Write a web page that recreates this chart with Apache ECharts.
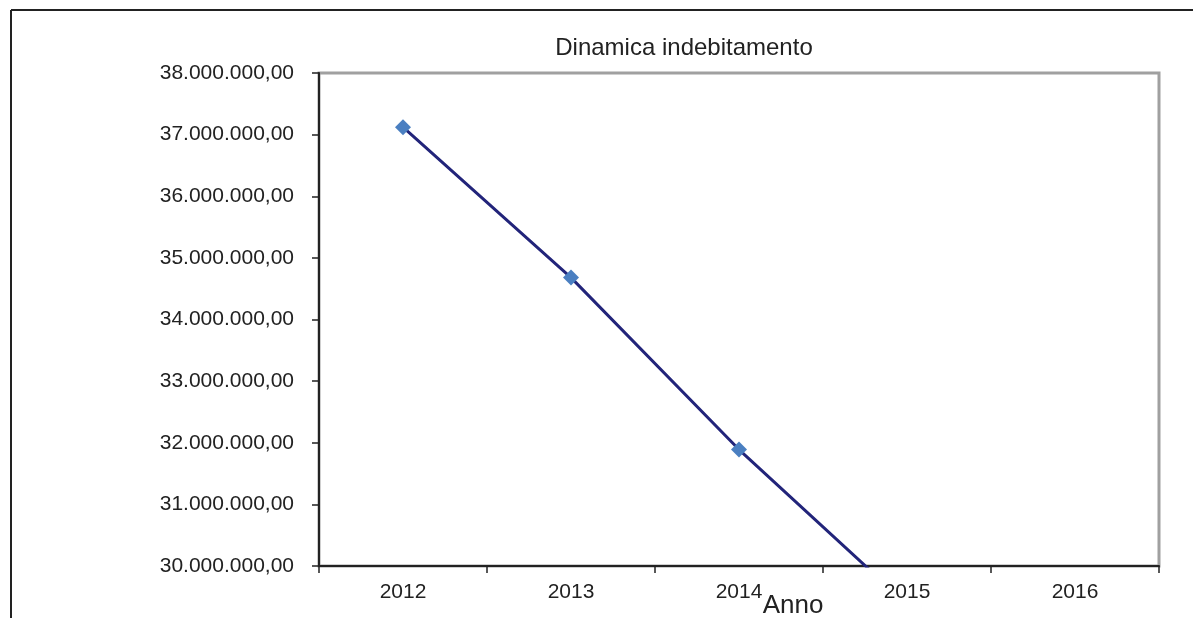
<!DOCTYPE html>
<html>
<head>
<meta charset="utf-8">
<script src="https://cdn.jsdelivr.net/npm/echarts@6/dist/echarts.min.js"></script>
<style>
html,body{margin:0;padding:0;background:#fff;}
#chart{width:1193px;height:618px;}
</style>
</head>
<body>
<div id="chart"></div>
<script>
var categories = ['2012', '2013', '2014', '2015', '2016'];
var debtValues = [37120000, 34680000, 31890000, 29380000, null];
var yMin = 30000000, yMax = 38000000, yStep = 1000000;

function fmt(v) {
  var s = Math.round(v).toString().replace(/\B(?=(\d{3})+(?!\d))/g, '.');
  return s + ',00';
}

var chart = echarts.init(document.getElementById('chart'), null, {renderer: 'canvas'});
chart.setOption({
  animation: false,
  backgroundColor: '#fff',
  textStyle: {fontFamily: 'Liberation Sans, Arial, sans-serif'},
  title: {
    text: 'Dinamica indebitamento',
    left: 679, top: 31, textAlign: 'center',
    textStyle: {fontSize: 24, fontWeight: 'normal', color: '#222', fontFamily: 'Liberation Sans'}
  },
  graphic: [
    {type: 'line', shape: {x1: 11, y1: 10, x2: 11, y2: 618}, style: {stroke: '#222', lineWidth: 2}},
    {type: 'line', shape: {x1: 11, y1: 10, x2: 1193, y2: 10}, style: {stroke: '#222', lineWidth: 2}}
  ],
  grid: {
    left: 319, top: 73, right: 34, bottom: 52,
    outerBoundsMode: 'none',
    containLabel: false,
    show: true, borderColor: '#a0a0a0', borderWidth: 3, backgroundColor: 'transparent'
  },
  xAxis: {
    type: 'category',
    data: categories,
    boundaryGap: true,
    name: 'Anno',
    nameLocation: 'middle',
    nameMoveOverlap: false,
    nameGap: 27,
    nameTextStyle: {fontSize: 26, color: '#222', padding: [0, 0, 0, 108]},
    axisLine: {lineStyle: {color: '#222', width: 2}},
    axisTick: {show: true, length: 7, alignWithLabel: false, lineStyle: {color: '#222', width: 1.5}},
    axisLabel: {fontSize: 21, color: '#222', margin: 16},
    splitLine: {show: false}
  },
  yAxis: {
    type: 'value',
    min: yMin, max: yMax, interval: yStep,
    axisLine: {show: true, lineStyle: {color: '#222', width: 2}},
    axisTick: {show: true, length: 7, lineStyle: {color: '#222', width: 1.5}},
    axisLabel: {fontSize: 21, color: '#222', margin: 25, formatter: fmt},
    splitLine: {show: false}
  },
  series: [{
    type: 'line',
    data: debtValues,
    clip: true,
    symbol: 'diamond',
    symbolSize: 16,
    itemStyle: {color: '#4a7fc1'},
    lineStyle: {color: '#22247a', width: 3},
    z: 3
  }]
});
</script>
</body>
</html>
